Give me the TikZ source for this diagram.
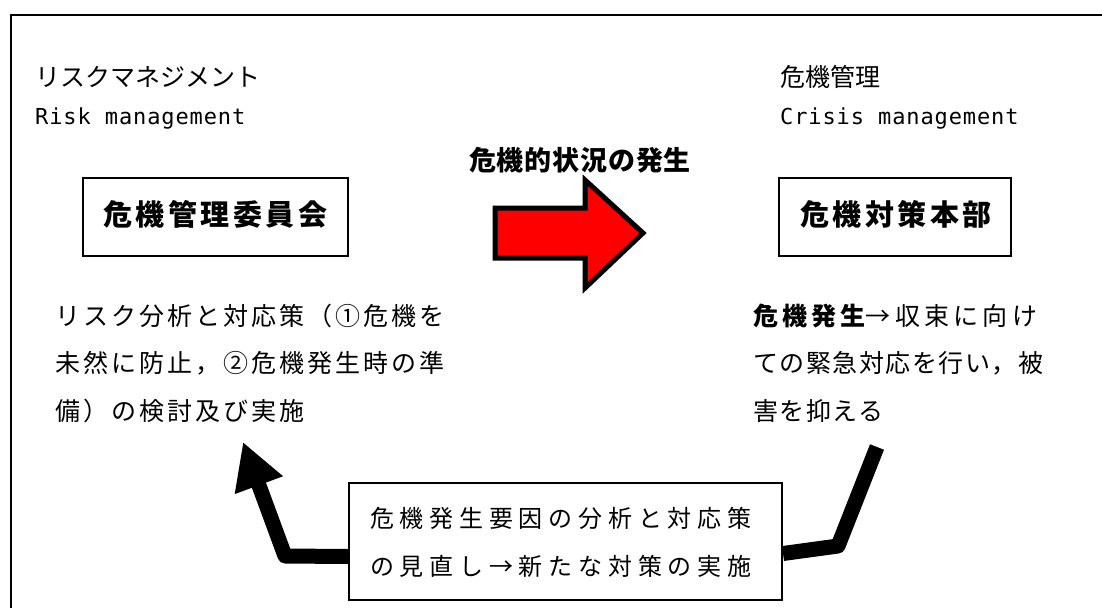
\documentclass[tikz,border=0pt]{standalone}
\usepackage{fontspec}
\setmainfont{Noto Sans CJK JP}
\newfontfamily\jpnat{Noto Sans CJK JP}[LetterSpace=6]
\newfontfamily\jpwide{Noto Sans CJK JP}[LetterSpace=12]
\newfontfamily\jpwider{Noto Sans CJK JP}[LetterSpace=17]
\newfontfamily\jpbox{Noto Sans CJK JP}[LetterSpace=24]
\newfontfamily\jphead{Noto Sans CJK JP}[LetterSpace=0]
\newfontfamily\jptitle{Noto Sans CJK JP}[LetterSpace=3]
\newfontfamily\jpbig{Noto Sans CJK JP}[LetterSpace=12]
\newfontfamily\monof{DejaVu Sans Mono}[LetterSpace=4]
\usetikzlibrary{arrows.meta,calc}
\begin{document}
\begin{tikzpicture}[x=1pt,y=-1pt,
  box/.style={draw, line width=2pt, inner sep=0pt},
  lbl/.style={anchor=west, inner sep=0pt},
  bigarrow/.style={line width=15pt, line join=round, line cap=butt},
  ]
\useasboundingbox (0,0) rectangle (1102,608);
% frame
\draw[line width=2pt] (11,608) -- (11,15) -- (1102,15);
% headings
\node[lbl, font=\jphead\fontsize{25}{25}\selectfont] (rmjp) at (35,77) {リスクマネジメント};
\node[lbl, font=\monof\fontsize{22}{22}\selectfont] (rmen) at (35,119) {Risk management};
\node[lbl, font=\jphead\fontsize{25}{25}\selectfont] (cmjp) at (780,77) {危機管理};
\node[lbl, font=\monof\fontsize{22}{22}\selectfont] (cmen) at (780,119) {Crisis management};
% center title and red arrow
\node[lbl, font=\jptitle\bfseries\fontsize{27}{27}\selectfont] (title) at (469,160) {危機的状況の発生};
\filldraw[fill=red, line width=5pt, line join=miter]
  (495,208) -- (585,208) -- (585,180) -- (643,233) -- (585,288) -- (585,258) -- (495,258) -- cycle;
% boxes
\node[box, minimum width=265pt, minimum height=78pt] (b1) at (215.5,217) {};
\node[lbl, font=\jpbig\bfseries\fontsize{29}{29}\selectfont] (b1t) at (103,214) {危機管理委員会};
\node[box, minimum width=232pt, minimum height=78pt] (b2) at (895,217) {};
\node[lbl, font=\jpbig\bfseries\fontsize{29}{29}\selectfont] (b2t) at (800,214) {危機対策本部};
% left paragraph
\node[lbl, font=\jpwide\fontsize{25}{25}\selectfont] (l1) at (55,316) {リスク分析と対応策（①危機を};
\node[lbl, font=\jpwide\fontsize{25}{25}\selectfont] (l2) at (55,363) {未然に防止，②危機発生時の準};
\node[lbl, font=\jpwide\fontsize{25}{25}\selectfont] (l3) at (55,411) {備）の検討及び実施};
% right paragraph
\node[lbl, font=\jpwider\fontsize{25}{25}\selectfont] (r1) at (753,316) {{\bfseries 危機発生}→収束に向け};
\node[lbl, font=\jpnat\fontsize{25}{25}\selectfont] (r2) at (753,363) {ての緊急対応を行い，被};
\node[lbl, font=\jpnat\fontsize{25}{25}\selectfont] (r3) at (753,411) {害を抑える};
% bottom box
\node[box, minimum width=433pt, minimum height=117pt] (b3) at (565.5,541.5) {};
\node[lbl, font=\jpbox\fontsize{24}{24}\selectfont] (b3a) at (370,518) {危機発生要因の分析と対応策};
\node[lbl, font=\jpbox\fontsize{24}{24}\selectfont] (b3b) at (370,566) {の見直し→新たな対策の実施};
% feedback connectors
\coordinate (rend) at (877,447);
\coordinate (rbend) at (838,546);
\coordinate (lbend) at (285,556);
\coordinate (ltip) at (243,442);
\draw[bigarrow] (rend) -- (rbend) -- ($(b3.east)+(0,12)$);
\draw[bigarrow, -{Triangle[length=46pt,width=48pt]}] ($(b3.west)+(0,15)$) -- (lbend) -- (ltip);
\end{tikzpicture}
\end{document}
